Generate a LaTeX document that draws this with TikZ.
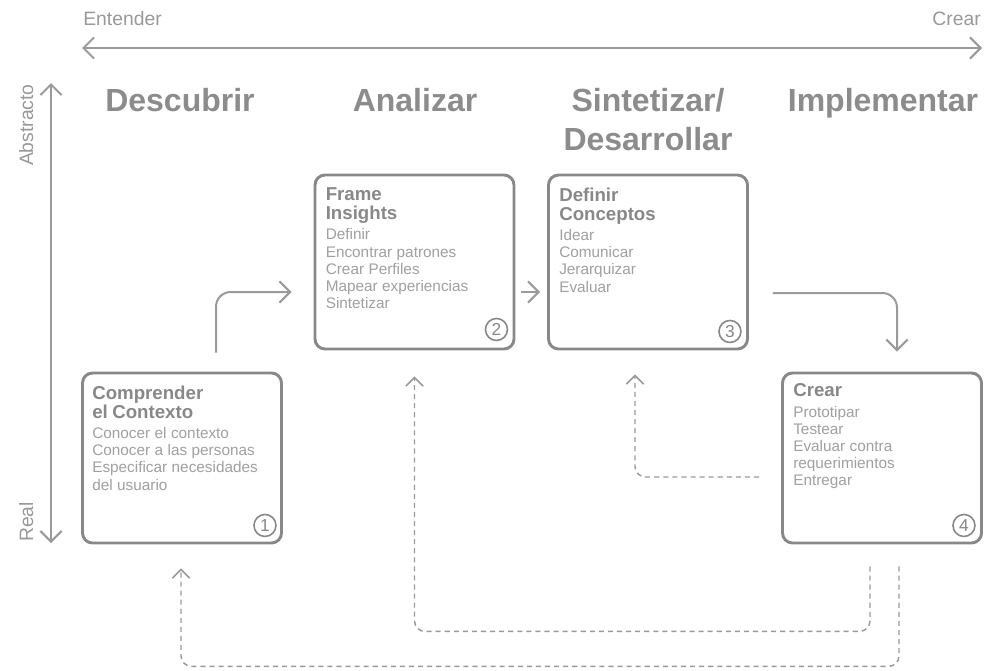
\documentclass[tikz,border=0pt]{standalone}
\usepackage{fontspec}
\setmainfont{Liberation Sans}
\usetikzlibrary{arrows.meta,calc}
\definecolor{hd}{HTML}{8C8C8C}
\definecolor{ln}{HTML}{9A9A9A}
\definecolor{bx}{HTML}{888888}
\definecolor{bd}{HTML}{A0A0A0}
\definecolor{ax}{HTML}{999999}
\newcommand{\ttl}[1]{{\bfseries\fontsize{14}{14.25}\selectfont\color{bx}#1\par}}
\newcommand{\bdy}[1]{{\vspace{2.3pt}\fontsize{11.5}{12.9}\selectfont\color{bd}#1\par}}
\begin{document}
\begin{tikzpicture}[x=0.75pt,y=-0.75pt,
  stage/.style={font=\bfseries\fontsize{24}{29.25}\selectfont, text=hd, inner sep=0, align=center, anchor=north},
  axlabel/.style={font=\fontsize{14.5}{16}\selectfont, text=ax, inner sep=0},
  phase/.style={draw=bx, line width=2.2pt, rounded corners=7.5pt, minimum width=149.25pt, inner sep=0},
  txt/.style={anchor=north west, inner sep=0, text width=140pt, align=left},
  num/.style={circle, draw=bx, line width=1.2pt, minimum size=16.5pt, inner sep=0, text=bx, font=\fontsize{13}{13}\selectfont},
  axarr/.style={draw=ln, line width=1.5pt, {Straight Barb[length=8pt,width=16pt]}-{Straight Barb[length=8pt,width=16pt]}},
  arr/.style={draw=ln, line width=1.5pt, rounded corners=11pt, -{Straight Barb[length=8pt,width=16pt]}},
  darr/.style={draw=ln, line width=1.1pt, dash pattern=on 3.8pt off 3pt, rounded corners=8pt, -{Straight Barb[length=6.5pt,width=13pt]}}
]
\fill[white] (0,0) rectangle (989,671);
\useasboundingbox (0,0) rectangle (989,671);

% axes
\coordinate (hl) at (82,48);
\coordinate (hr) at (982,48);
\draw[axarr] (hl) -- (hr);
\node[axlabel, anchor=base west] (ent) at (83,25) {Entender};
\node[axlabel, anchor=base east] (cre) at (981,25) {Crear};
\coordinate (vt) at (51,83);
\coordinate (vb) at (51,543);
\draw[axarr] (vt) -- (vb);
\node[axlabel, rotate=90, anchor=base east] (abs) at (33,84) {Abstracto};
\node[axlabel, rotate=90, anchor=base west] (rea) at (33,542) {Real};

% stage headings
\node[stage] (h1) at (180,88) {Descubrir};
\node[stage] (h2) at (415,88) {Analizar};
\node[stage] (h3) at (648,88) {Sintetizar/\\Desarrollar};
\node[stage] (h4) at (883,88) {Implementar};

% boxes
\node[phase, minimum height=127.5pt] (b1) at (182,458) {};
\node[phase, minimum height=130.5pt] (b2) at (414.5,262) {};
\node[phase, minimum height=130.5pt] (b3) at (648,262) {};
\node[phase, minimum height=127.5pt] (b4) at (882,458) {};

\node[txt] (t1) at ($(b1.north west)+(11,14)$) {\ttl{Comprender\\el Contexto}\bdy{Conocer el contexto\\Conocer a las personas\\Especificar necesidades\\del usuario}};
\node[txt] (t2) at ($(b2.north west)+(12,14)$) {\ttl{Frame\\Insights}\bdy{Definir\\Encontrar patrones\\Crear Perfiles\\Mapear experiencias\\Sintetizar}};
\node[txt] (t3) at ($(b3.north west)+(12,14)$) {\ttl{Definir\\Conceptos}\bdy{Idear\\Comunicar\\Jerarquizar\\Evaluar}};
\node[txt] (t4) at ($(b4.north west)+(12,12)$) {\ttl{Crear}\bdy{Prototipar\\Testear\\Evaluar contra\\requerimientos\\Entregar}};

\node[num] (n1) at ($(b1.south east)+(-18,-19)$) {1};
\node[num] (n2) at ($(b2.south east)+(-19,-21)$) {2};
\node[num] (n3) at ($(b3.south east)+(-19,-19)$) {3};
\node[num] (n4) at ($(b4.south east)+(-19,-19)$) {4};

% solid flow arrows
\draw[arr] ($(b1.north)+(34,-19)$) |- ($(b2.west)+(-22,30)$);
\draw[arr] ($(b2.east)+(6,30)$) -- ($(b3.west)+(-7,30)$);
\draw[arr] ($(b3.east)+(24,31)$) -| ($(b4.north)+(15,-20)$);

% dashed feedback arrows
\draw[darr] ($(b4.west)+(-22,19)$) -| ($(b3.south)+(-13,24)$);
\draw[darr] ($(b4.south)+(-12,22)$) -- ++(0,65) -| ($(b2.south)+(0,26)$);
\draw[darr] ($(b4.south)+(17,22)$) -- ++(0,100) -| ($(b1.south)+(-1,24)$);
\end{tikzpicture}
\end{document}
